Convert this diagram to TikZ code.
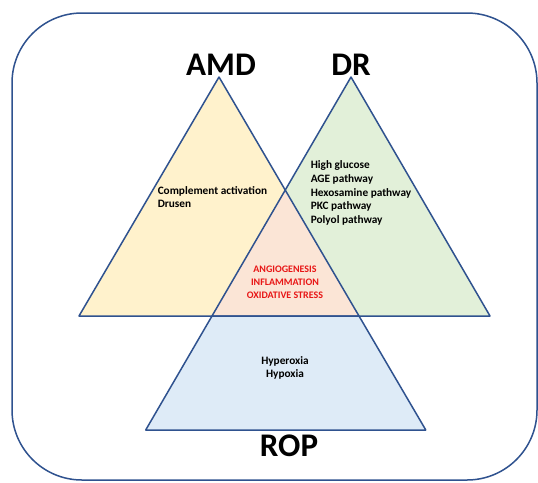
\documentclass[tikz,border=0pt]{standalone}
\usepackage{fontspec}
\setmainfont{Carlito}
\usetikzlibrary{positioning}
\definecolor{edgeblue}{RGB}{47,82,143}
\definecolor{amdfill}{RGB}{255,242,204}
\definecolor{drfill}{RGB}{226,240,217}
\definecolor{mixfill}{RGB}{251,229,214}
\definecolor{ropfill}{RGB}{222,235,247}
\definecolor{keyred}{RGB}{232,22,22}

\begin{document}
\begin{tikzpicture}[x=1pt,y=-1pt,line width=1.5pt,draw=edgeblue,line join=round]
    \tikzstyle{disease}=[inner sep=0pt, font=\fontsize{33}{36}\selectfont\bfseries]
    \tikzstyle{factors}=[inner sep=0pt, align=left, font=\fontsize{11.3}{13.6}\selectfont\bfseries]
    \tikzstyle{shared}=[factors, align=center, text=keyred, font=\fontsize{10}{13}\selectfont\bfseries]

    \useasboundingbox (0,0) rectangle (538,482);
    \fill[white] (0,0) rectangle (538,482);

    % Draw the frame
    \draw[rounded corners=70pt] (12,13) rectangle (537,480);

    % Corners of the triangles
    \coordinate (amdtop) at (219,77);
    \coordinate (amdleft) at (79,316);
    \coordinate (amdright) at (359,316);
    \coordinate (drtop) at (351,77);
    \coordinate (drleft) at (212,316);
    \coordinate (drright) at (490,316);
    \coordinate (mix) at (285.2,190);
    \coordinate (ropleft) at (145.7,430);
    \coordinate (ropright) at (425.8,430);

    % Fill the areas
    \fill[amdfill] (amdleft) -- (amdtop) -- (amdright) -- cycle;
    \fill[drfill] (drleft) -- (drtop) -- (drright) -- cycle;
    \fill[mixfill] (drleft) -- (mix) -- (amdright) -- cycle;
    \fill[ropfill] (drleft) -- (ropleft) -- (ropright) -- (amdright) -- cycle;

    % Draw the outlines
    \draw (amdleft) -- (amdtop) -- (amdright) -- cycle;
    \draw (drleft) -- (drtop) -- (drright) -- cycle;
    \draw (drleft) -- (ropleft) -- (ropright) -- (amdright);

    % Names of the diseases
    \node[disease, anchor=base] (amd) at (221,75) {AMD};
    \node[disease, anchor=base] (dr) at (351,75) {DR};
    \node[disease, anchor=base] (rop) at (289,456) {ROP};

    % Factors of each disease
    \node[factors, anchor=west] (amd-f) at (157,197) {Complement activation\\Drusen};
    \node[factors, anchor=west] (dr-f) at (310,193) {High glucose\\AGE pathway\\Hexosamine pathway\\PKC pathway\\Polyol pathway};
    \node[factors, align=center] (rop-f) at (285,368) {Hyperoxia\\Hypoxia};
    \node[shared] (common) at (285,282) {ANGIOGENESIS\\INFLAMMATION\\OXIDATIVE STRESS};
\end{tikzpicture}
\end{document}
